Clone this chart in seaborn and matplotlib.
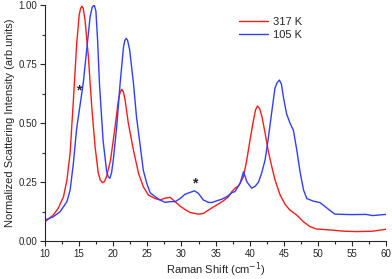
import seaborn as sns
import matplotlib.pyplot as plt
import pandas as pd

# Raman spectra (x in cm^-1, normalized intensity)
red_x = [10, 11.2, 11.95, 12.7, 13.2, 13.67, 14.15, 14.64, 15.0, 15.2, 15.4, 15.6, 15.86,
         16.35, 16.84, 17.33, 17.8, 18.1, 18.45, 18.7, 19.0, 19.6, 20.26, 20.75, 21.0,
         21.24, 21.5, 21.73, 22.2, 22.95, 23.7, 24.4, 25.15, 26.13, 26.86, 27.6, 28.33,
         29.06, 29.8, 30.5, 31.26, 32.48, 33.2, 33.95, 34.7, 35.4, 36.17, 36.9, 37.4,
         37.9, 38.35, 39.08, 39.57, 40.06, 40.54, 40.85, 41.13, 41.45, 41.8, 42.26, 42.74,
         43.24, 43.7, 44.46, 45.2, 45.9, 46.9, 47.87, 48.85, 49.8, 51.8, 53.7, 55.7, 58.1, 60]
red_y = [0.082, 0.11, 0.14, 0.188, 0.258, 0.372, 0.597, 0.838, 0.958, 0.985, 0.995, 0.985,
         0.936, 0.78, 0.57, 0.40, 0.287, 0.258, 0.247, 0.252, 0.272, 0.343, 0.484, 0.597,
         0.63, 0.643, 0.63, 0.597, 0.5, 0.386, 0.287, 0.23, 0.195, 0.18, 0.174, 0.182,
         0.185, 0.167, 0.148, 0.134, 0.121, 0.114, 0.117, 0.131, 0.145, 0.157, 0.171,
         0.188, 0.21, 0.225, 0.233, 0.272, 0.343, 0.43, 0.51, 0.555, 0.572, 0.562, 0.527,
         0.457, 0.378, 0.315, 0.26, 0.195, 0.155, 0.131, 0.11, 0.082, 0.061, 0.051,
         0.047, 0.042, 0.04, 0.042, 0.05]

blue_x = [10, 11.2, 12.2, 13.2, 13.67, 14.15, 14.64, 15.1, 15.6, 16.1, 16.6, 16.9, 17.2,
          17.45, 17.7, 17.97, 18.5, 19.0, 19.25, 19.5, 19.75, 20.0, 20.5, 21.0, 21.5,
          21.7, 21.9, 22.1, 22.4, 22.95, 23.4, 23.9, 24.4, 24.9, 25.4, 26.13, 26.86, 27.6,
          28.33, 29.06, 29.8, 30.5, 31.26, 31.9, 32.48, 33.2, 33.95, 34.44, 35.2, 35.9,
          36.64, 37.4, 37.86, 38.6, 39.1, 39.6, 40.3, 40.8, 41.3, 41.75, 42.25, 42.7,
          43.2, 43.7, 44.0, 44.35, 44.65, 44.94, 45.4, 45.9, 46.4, 46.9, 47.4, 47.9,
          48.37, 49.34, 50.3, 51.06, 51.8, 52.5, 55, 57, 58, 60]
blue_y = [0.089, 0.103, 0.124, 0.167, 0.216, 0.33, 0.48, 0.57, 0.67, 0.81, 0.95, 0.99,
          1.0, 0.975, 0.85, 0.668, 0.428, 0.3, 0.272, 0.266, 0.29, 0.343, 0.484, 0.668,
          0.823, 0.85, 0.859, 0.85, 0.81, 0.67, 0.527, 0.414, 0.3, 0.245, 0.205, 0.188,
          0.174, 0.164, 0.167, 0.167, 0.18, 0.198, 0.206, 0.213, 0.202, 0.174, 0.164,
          0.163, 0.171, 0.177, 0.188, 0.205, 0.21, 0.245, 0.294, 0.25, 0.224, 0.232,
          0.25, 0.288, 0.343, 0.43, 0.54, 0.647, 0.67, 0.682, 0.665, 0.61, 0.54, 0.5,
          0.47, 0.386, 0.29, 0.216, 0.18, 0.169, 0.163, 0.146, 0.129, 0.114, 0.112,
          0.113, 0.108, 0.113]

labels = ['317 K', '105 K']

df = pd.concat([
    pd.DataFrame({'shift': red_x, 'intensity': red_y, 'T': labels[0]}),
    pd.DataFrame({'shift': blue_x, 'intensity': blue_y, 'T': labels[1]}),
])

sns.set_style('ticks')
plt.rcParams['font.family'] = ['Liberation Sans', 'DejaVu Sans']

fig = plt.figure(figsize=(3.92, 2.79), dpi=100)
ax = fig.add_axes([0.115, 0.136, 0.87, 0.846])

sns.lineplot(data=df, x='shift', y='intensity', hue='T', estimator=None,
             palette={labels[0]: '#ff1a1a', labels[1]: '#2f3fff'}, linewidth=1.0, ax=ax)

# peaks marked with asterisks
ax.text(14.88, 0.637, '*', fontsize=10, fontweight='bold', ha='center', va='center')
ax.text(31.9, 0.244, '*', fontsize=10, fontweight='bold', ha='center', va='center')

ax.set_xlim(10, 60)
ax.set_ylim(0, 1.0)
ax.set_xticks(range(10, 61, 5))
ax.set_xticks([x + 2.5 for x in range(10, 60, 5)], minor=True)
ax.set_yticks([0, 0.25, 0.5, 0.75, 1.0])
ax.set_yticks([0.125, 0.375, 0.625, 0.875], minor=True)
ax.set_yticklabels(['0.00', '0.25', '0.50', '0.75', '1.00'])
ax.tick_params(which='major', length=3.5, width=0.8, labelsize=7, pad=2)
ax.tick_params(which='minor', length=2, width=0.8)
ax.set_xlabel('Raman Shift (cm$^{-1}$)', fontsize=8, labelpad=1)
ax.set_ylabel('Normalized Scattering Intensity (arb.units)', fontsize=8, labelpad=3)
for s in ['top', 'right']:
    ax.spines[s].set_visible(False)
for s in ['left', 'bottom']:
    ax.spines[s].set_linewidth(0.8)

ax.legend(loc='upper left', bbox_to_anchor=(0.54, 0.99), frameon=False, fontsize=8,
          handlelength=2.6, handletextpad=0.4, labelspacing=0.2)

fig.savefig('out.png', dpi=100)
